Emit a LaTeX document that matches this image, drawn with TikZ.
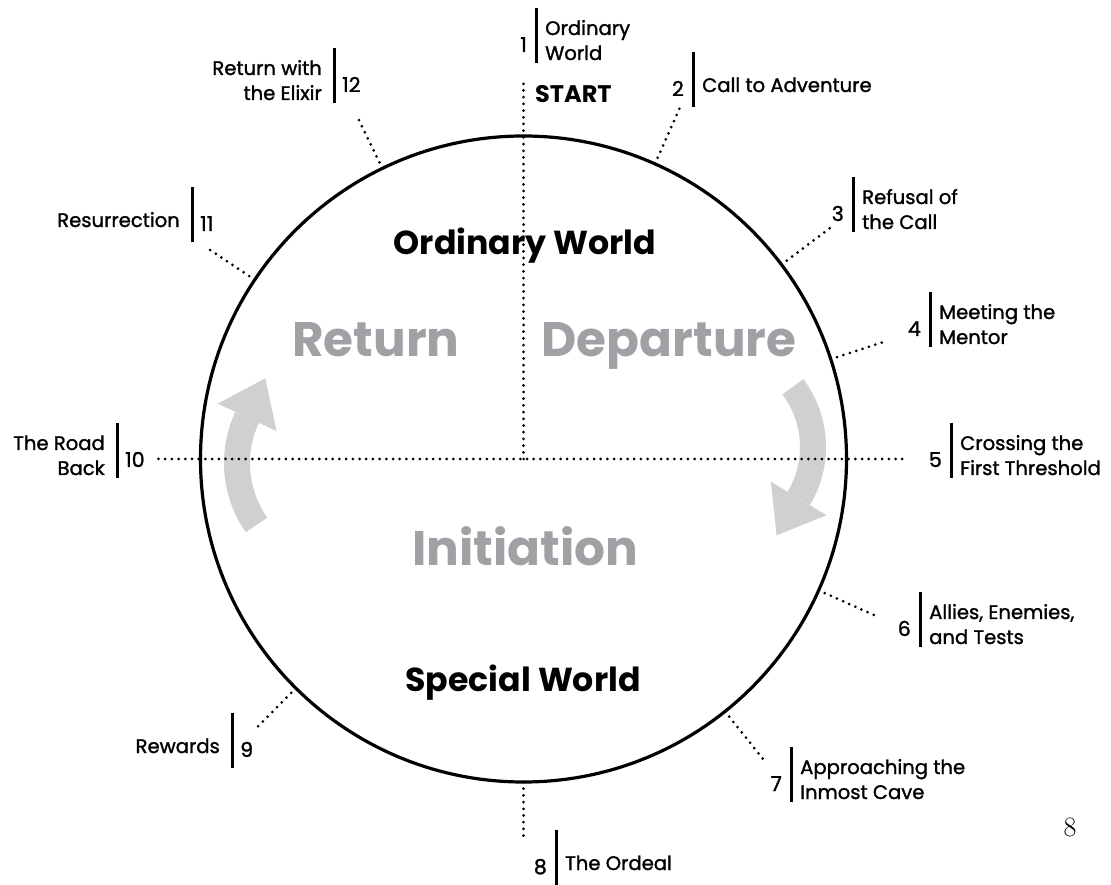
\documentclass[tikz,border=0pt]{standalone}
\usepackage{fontspec}
\newfontfamily\geo[FakeBold=1.4]{Poppins}
\newfontfamily\geobold{Poppins}
\usetikzlibrary{calc}
\definecolor{phasegray}{RGB}{160,161,165}
\definecolor{flowgray}{RGB}{208,208,208}
\tikzset{
  lbl/.style={inner sep=0pt, font=\geo\fontsize{19.6}{22}\selectfont},
  num/.style={inner sep=0pt, font=\geo\fontsize{20.5}{22}\selectfont},
  bar/.style={line width=3pt},
  rim/.style={line width=3.2pt},
  dots/.style={line width=3pt, line cap=round, dash pattern=on 0pt off 6.7pt},
  world/.style={inner sep=0pt, font=\geobold\fontsize{33.2}{36}\selectfont\bfseries},
  phase/.style={inner sep=0pt, text=phasegray, font=\geobold\fontsize{48.5}{52}\selectfont\bfseries},
  flow/.style={line width=26pt, draw=flowgray},
  flowhead/.style={fill=flowgray},
}
% stage labels: number | text, with the bar at x = #2 and its top at y = #3
\newcommand\stageRtwo[6]{%
  \node[num, anchor=base east] (n#1) at (#2-9, #3-44) {#4};
  \draw[bar] (#2, #3) coordinate (bt#1) -- (#2, #3-55) coordinate (bb#1);
  \node[lbl, anchor=base west] (la#1) at (#2+9, #3-27) {#5};
  \node[lbl, anchor=base west] (lb#1) at (#2+9, #3-52) {#6};
}
\newcommand\stageRone[5]{%
  \node[num, anchor=base east] (n#1) at (#2-9, #3-44) {#4};
  \draw[bar] (#2, #3) coordinate (bt#1) -- (#2, #3-55) coordinate (bb#1);
  \node[lbl, anchor=base west] (la#1) at (#2+9, #3-40) {#5};
}
% text | number, for the left-hand stages
\newcommand\stageLtwo[6]{%
  \node[num, anchor=base west] (n#1) at (#2+8, #3-44) {#4};
  \draw[bar] (#2, #3) coordinate (bt#1) -- (#2, #3-55) coordinate (bb#1);
  \node[lbl, anchor=base east] (la#1) at (#2-12, #3-27) {#5};
  \node[lbl, anchor=base east] (lb#1) at (#2-12, #3-52) {#6};
}
\newcommand\stageLone[5]{%
  \node[num, anchor=base west] (n#1) at (#2+8, #3-44) {#4};
  \draw[bar] (#2, #3) coordinate (bt#1) -- (#2, #3-55) coordinate (bb#1);
  \node[lbl, anchor=base east] (la#1) at (#2-12, #3-40) {#5};
}
\begin{document}
\begin{tikzpicture}[x=1pt, y=1pt]
\useasboundingbox (0,0) rectangle (1111,884);

% centre of the journey circle
\coordinate (O) at (523.5,425);

% clockwise flow arrows
\coordinate (rc) at (713,437);
\coordinate (ra) at ($(rc)+(37:100)$);
\draw[flow] (ra) arc[start angle=37, end angle=-31, radius=100pt] coordinate (re);
\fill[flowhead] ($(re)+(-31:32.5)$) -- ($(re)+(-121:43)$) -- ($(re)+(149:32.5)$) -- cycle;
\coordinate (lc) at (345,421);
\coordinate (lq) at ($(lc)+(215:108)$);
\draw[flow] (lq) arc[start angle=215, end angle=155, radius=108pt] coordinate (le);
\fill[flowhead] ($(le)+(155:32.5)$) -- ($(le)+(65:43)$) -- ($(le)+(-25:32.5)$) -- cycle;

% phase names
\node[phase, anchor=base] (ret) at (376,527) {Return};
\node[phase, anchor=base] (dep) at (669,527) {Departure};
\node[phase, anchor=base] (ini) at (525,318) {Initiation};

% worlds
\node[world, anchor=base] (ow) at (525,629) {Ordinary World};
\node[world, anchor=base] (sw) at (523,192) {Special World};

% the circle
\draw[rim] (O) circle[radius=323pt];

% axes through the centre
\coordinate (e1) at ($(O)+(90:379)$);
\coordinate (e5) at ($(O)+(0:382)$);
\coordinate (e10) at ($(O)+(180:365)$);
\draw[dots] (O) -- (e1);
\draw[dots] (e10) -- (e5);

% ticks for the other stages
\foreach \i/\a/\r in {2/66/384, 3/37/384, 4/18/383, 6/-24/386, 7/-51.4/385,
                      8/-90/381, 9/225.2/378, 11/146.3/379, 12/115.9/378}{
  \coordinate (c\i) at ($(O)+(\a:323)$);
  \coordinate (e\i) at ($(O)+(\a:\r)$);
  \draw[dots] (c\i) -- (e\i);
}

\node[inner sep=0pt, anchor=base west, font=\geobold\fontsize{24}{26}\selectfont\bfseries] (start) at (535,781) {START};

% stage labels
\stageRtwo{1}{536}{876}{1}{Ordinary}{World}
\stageRone{2}{693}{832}{2}{Call to Adventure}
\stageRtwo{3}{853}{707}{3}{Refusal of}{the Call}
\stageRtwo{4}{930}{592}{4}{Meeting the}{Mentor}
\stageRtwo{5}{951}{461}{5}{Crossing the}{First Threshold}
\stageRtwo{6}{920}{292}{6}{Allies, Enemies,}{and Tests}
\stageRtwo{7}{791}{137}{7}{Approaching the}{Inmost Cave}
\stageRone{8}{556}{54}{8}{The Ordeal}
\stageLone{9}{232}{171}{9}{Rewards}
\stageLtwo{10}{117}{461}{10}{The Road}{Back}
\stageLone{11}{192}{697}{11}{Resurrection}
\stageLtwo{12}{334}{836}{12}{Return with}{the Elixir}

% page number
\node[inner sep=0pt, anchor=base, font=\fontsize{28}{30}\selectfont] (pg) at (1070,48) {8};
\end{tikzpicture}
\end{document}
